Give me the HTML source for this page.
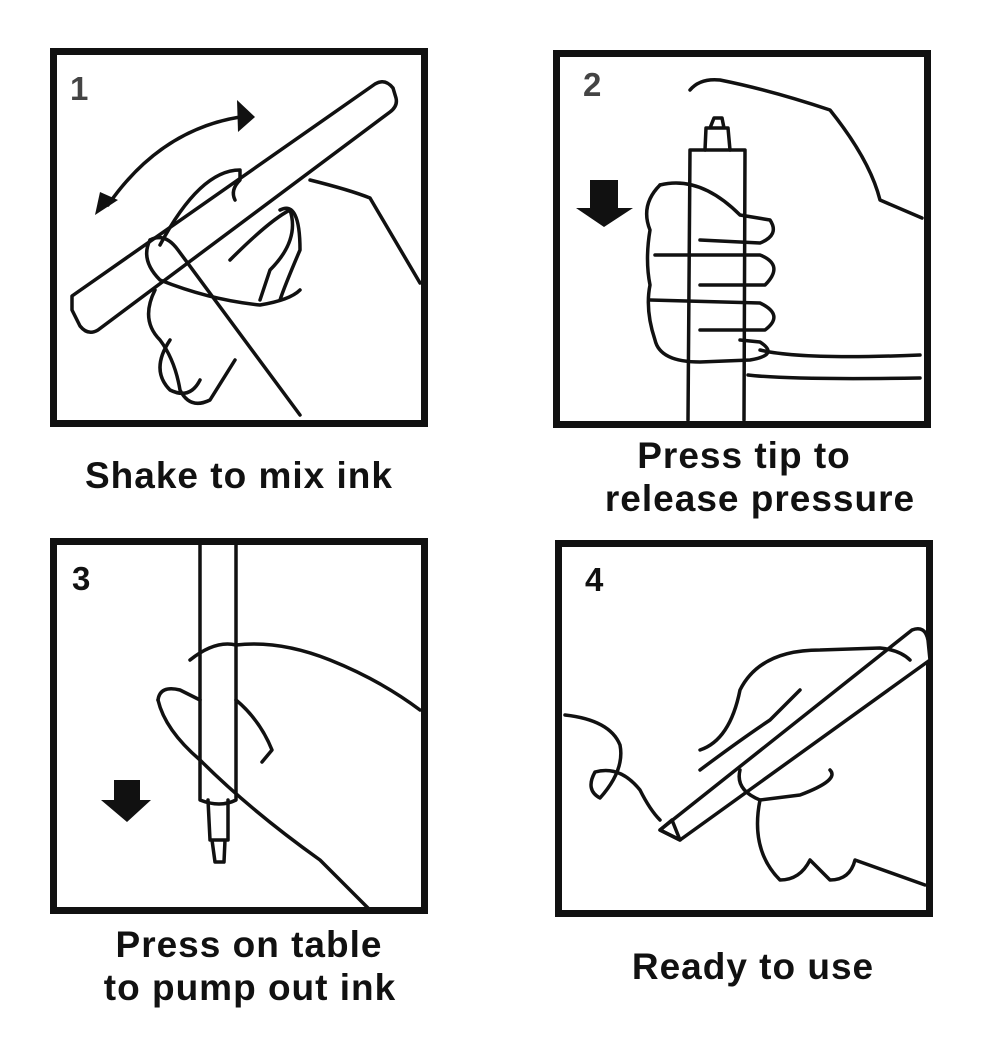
<!DOCTYPE html>
<html><head><style>
body{margin:0;background:#fff;}
svg{display:block}
text{font-family:"Liberation Sans",sans-serif;font-weight:bold;}
</style></head><body>
<svg width="986" height="1064" viewBox="0 0 986 1064" xmlns="http://www.w3.org/2000/svg">
<g fill="none" stroke="#111" stroke-width="7">
<rect x="53.5" y="51.5" width="371" height="372"/>
<rect x="556.5" y="53.5" width="371" height="371"/>
<rect x="53.5" y="541.5" width="371" height="369"/>
<rect x="558.5" y="543.5" width="371" height="370"/>
</g>
<g fill="#444" font-size="33">
<text x="70" y="100">1</text>
<text x="583" y="96">2</text>
<text x="72" y="590" fill="#111">3</text>
<text x="585" y="591" fill="#111">4</text>
</g>
<g fill="none" stroke="#111" stroke-width="3.5" stroke-linejoin="round" stroke-linecap="round">
<!-- panel 1 -->
<path d="M72 296 L375 84 Q385 78 393 88 L396 98 Q398 106 390 112 L98 330 Q88 336 80 326 L72 310 Z" fill="#fff"/>
<path d="M108 205 Q160 130 240 117"/>
<path d="M160 245 Q200 170 240 170 L240 180 Q230 190 235 200"/>
<path d="M310 180 Q350 190 370 198 L420 283"/>
<path d="M150 240 Q165 232 178 250 L300 415"/>
<path d="M150 240 Q140 260 160 280 Q210 300 260 305 Q290 300 300 290"/>
<path d="M155 290 Q140 320 160 340 Q175 360 180 390 Q190 410 210 400 L235 360"/>
<path d="M170 340 Q150 370 170 390 Q190 400 200 380"/>
<path d="M230 260 Q270 220 290 210 Q300 240 270 270 L260 300"/>
<path d="M280 210 Q300 200 300 250 Q285 285 280 300"/>
<!-- panel 2 -->
<path d="M688 420 L690 150 L745 150 L744 420" fill="#fff"/>
<path d="M705 150 L706 128 L728 128 L730 150 M710 128 L714 118 L722 118 L724 128"/>
<path d="M690 90 Q700 78 720 80 Q770 90 830 110 Q870 160 880 200 L922 218"/>
<path d="M660 185 Q640 205 650 230 Q645 260 650 285 Q645 310 655 340 Q660 362 700 362 L750 360 Q780 355 760 342 L740 340"/>
<path d="M660 185 Q700 175 740 215 L770 220 Q780 235 760 243 L700 240"/>
<path d="M655 255 L760 255 Q785 265 765 285 L700 285"/>
<path d="M650 300 L760 303 Q785 315 765 330 L700 330"/>
<path d="M760 350 Q800 360 920 355"/>
<path d="M748 375 Q790 380 920 378"/>
<!-- panel 3 -->
<path d="M200 545 L200 800 Q220 808 236 800 L236 545" fill="#fff"/>
<path d="M208 800 L210 840 L228 840 L228 800 M212 840 L215 862 L224 862 L225 840"/>
<path d="M158 700 Q160 685 180 690 L200 700"/>
<path d="M158 700 Q165 730 200 760 Q250 810 320 860 L370 910"/>
<path d="M190 660 Q215 640 236 645 Q280 640 330 660 Q380 680 420 710"/>
<path d="M236 700 Q260 720 272 750 L262 762"/>
<!-- panel 4 -->
<path d="M660 830 L912 630 Q925 625 928 640 L930 660 L680 840 Z" fill="#fff"/>
<path d="M660 830 L672 820 L680 840 Z"/>
<path d="M565 715 Q610 720 620 745 Q625 770 600 798 Q585 790 595 772 Q620 765 640 790 Q650 810 660 820"/>
<path d="M700 750 Q730 740 740 690 Q760 650 820 650 L880 648 Q900 650 910 660"/>
<path d="M700 770 Q740 740 770 720 Q790 700 800 690"/>
<path d="M740 770 Q735 790 760 800 L800 795 Q840 780 830 770"/>
<path d="M760 800 Q750 850 780 880 Q800 880 810 860 L830 880 Q850 880 855 860 L925 885"/>
</g>
<!-- arrows -->
<g fill="#111">
<polygon points="95,215 118,200 100,192"/>
<polygon points="255,117 237,100 238,132"/>
<polygon points="590,180 618,180 618,208 633,208 604,227 576,208 590,208"/>
<polygon points="114,780 140,780 140,800 151,800 127,822 101,800 114,800"/>
</g>
<g fill="#111" font-size="37" text-anchor="middle" letter-spacing="1">
<text x="239" y="488">Shake to mix ink</text>
<text x="744" y="468">Press tip to</text>
<text x="760" y="511">release pressure</text>
<text x="249" y="957">Press on table</text>
<text x="250" y="1000">to pump out ink</text>
<text x="753" y="979">Ready to use</text>
</g>
</svg>
</body></html>
